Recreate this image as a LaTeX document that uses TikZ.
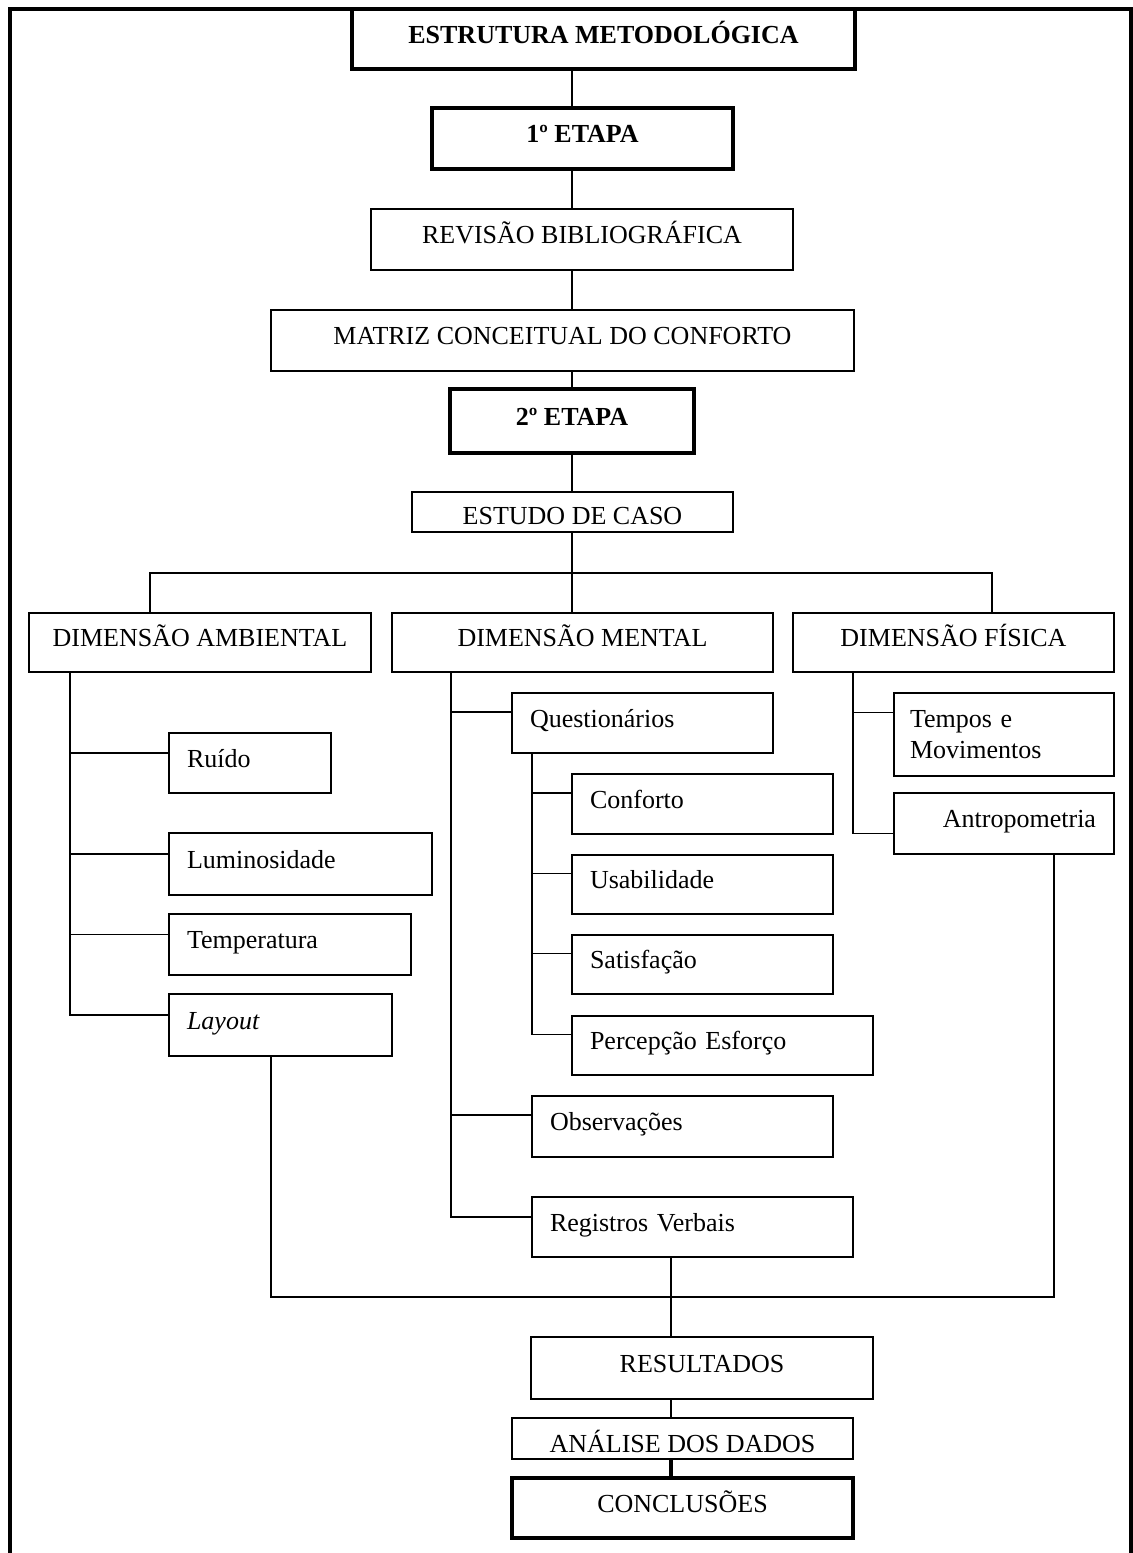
\documentclass[tikz,border=0pt]{standalone}
\usepackage{fontspec}
\setmainfont{Liberation Serif}
\begin{document}
\begin{tikzpicture}[x=0.5pt, y=-0.5pt,
  frm/.style={rectangle, draw, line width=0.9pt, fill=white, inner ysep=0pt,
    font=\fontsize{13}{15.5}\selectfont},
  box/.style={frm, text height=9pt, text depth=5pt, align=center},
  heavy/.style={box, line width=2.4pt, font=\fontsize{13}{15.5}\selectfont\bfseries},
  sub/.style={box, align=left, inner xsep=9pt},
  link/.style={line width=0.9pt},
]
\useasboundingbox (0,0) rectangle (1133,1553);

% Page frame
\draw[line width=2.2pt] (10,1553) -- (10,9) -- (1131,9) -- (1131,1553);

% Main column
\node[heavy, minimum width=251.5pt, minimum height=30pt] (estrutura) at (603.5,39) {ESTRUTURA METODOLÓGICA};
\node[heavy, minimum width=150.5pt, minimum height=30.5pt] (etapa1) at (582.5,138.5) {1º ETAPA};
\node[box, minimum width=211pt, minimum height=30.5pt] (revisao) at (582,239.5) {REVISÃO BIBLIOGRÁFICA};
\node[box, minimum width=291.5pt, minimum height=30.5pt] (matriz) at (562.5,340.5) {MATRIZ CONCEITUAL DO CONFORTO};
\node[heavy, minimum width=122pt, minimum height=32pt] (etapa2) at (572,421) {2º ETAPA};
\node[box, minimum width=160.5pt, minimum height=20pt, text height=12pt, text depth=0pt] (estudo) at (572.5,512) {ESTUDO DE CASO};

% Dimensions
\node[box, minimum width=171pt, minimum height=29.5pt] (ambiental) at (200,642.5) {DIMENSÃO AMBIENTAL};
\node[box, minimum width=190.5pt, minimum height=29.5pt] (mental) at (582.5,642.5) {DIMENSÃO MENTAL};
\node[box, minimum width=160.5pt, minimum height=29.5pt] (fisica) at (953.5,642.5) {DIMENSÃO FÍSICA};

% Ambiental branch
\node[sub, text width=63pt, minimum height=30pt] (ruido) at (250,763) {Ruído};
\node[sub, text width=113.5pt, minimum height=31pt] (lumin) at (300.5,864) {Luminosidade};
\node[sub, text width=103pt, minimum height=30.5pt] (temp) at (290,944.5) {Temperatura};
\node[sub, text width=93.5pt, minimum height=31pt] (layout) at (280.5,1025) {\textit{Layout}};

% Mental branch
\node[sub, text width=112.5pt, minimum height=30pt] (quest) at (642.5,723) {Questionários};
\node[sub, text width=112.5pt, minimum height=30pt] (conforto) at (702.5,804) {Conforto};
\node[sub, text width=112.5pt, minimum height=29.5pt] (usab) at (702.5,884.5) {Usabilidade};
\node[sub, text width=112.5pt, minimum height=29.5pt] (satisf) at (702.5,964.5) {Satisfação};
\node[sub, text width=132.5pt, minimum height=29.5pt] (percep) at (722.5,1045.5) {Percepção Esforço};
\node[sub, text width=132.5pt, minimum height=30.5pt] (observ) at (682.5,1126.5) {Observações};
\node[sub, text width=142.5pt, minimum height=30pt] (regist) at (692.5,1227) {Registros Verbais};

% Fisica branch
\node[frm, align=left, inner xsep=8pt, text width=94pt, minimum height=41.5pt] (tempos) at (1004,734.5) {Tempos e\\Movimentos};
\node[sub, align=right, text width=92pt, minimum height=30.5pt] (antrop) at (1004,823.5) {Antropometria};

% Closing steps
\node[box, minimum width=171pt, minimum height=31pt] (result) at (702,1368) {RESULTADOS};
\node[box, minimum width=170.5pt, minimum height=20.5pt, text height=13.5pt, text depth=0pt] (analise) at (682.5,1438.5) {ANÁLISE DOS DADOS};
\node[heavy, font=\fontsize{13}{15.5}\selectfont, minimum width=170.5pt, minimum height=30pt] (conclus) at (682.5,1508) {CONCLUSÕES};

% Guide coordinates
\coordinate (spine) at (572,0);
\coordinate (barL) at (150,573);
\coordinate (barR) at (992,573);
\coordinate (ambX) at (70,0);
\coordinate (menX) at (451,0);
\coordinate (qstX) at (532,0);
\coordinate (fisX) at (853,0);
\coordinate (layX) at (271,1297);
\coordinate (antX) at (1054,1297);
\coordinate (join) at (671,1297);

% Connectors
\foreach \a/\b in {estrutura/etapa1, etapa1/revisao, revisao/matriz, matriz/etapa2, etapa2/estudo, estudo/mental}
  \draw[link] (spine |- \a.south) -- (spine |- \b.north);
\draw[link] (barL |- ambiental.north) -- (barL) -- (barR) -- (barR |- fisica.north);

\foreach \n in {ruido, lumin, temp, layout}
  \draw[link] (ambX |- ambiental.south) |- ([yshift=5pt]\n.west);
\foreach \n/\s in {quest/5.5pt, observ/5.75pt, regist/5pt}
  \draw[link] (menX |- mental.south) |- ([yshift=\s]\n.west);
\foreach \n in {conforto, usab, satisf, percep}
  \draw[link] (qstX |- quest.south) |- ([yshift=5.5pt]\n.west);
\draw[link] (fisX |- fisica.south) |- ([yshift=11pt]tempos.west);
\draw[link] (fisX |- fisica.south) |- ([yshift=-5pt]antrop.west);

\draw[link] (layX |- layout.south) -- (layX) -- (antX) -- (antX |- antrop.south);
\draw[link] (join |- regist.south) -- (join |- result.north);
\draw[link] (join |- result.south) -- (join |- analise.north);
\draw[line width=1.8pt] (join |- analise.south) -- (join |- conclus.north);

\end{tikzpicture}
\end{document}
